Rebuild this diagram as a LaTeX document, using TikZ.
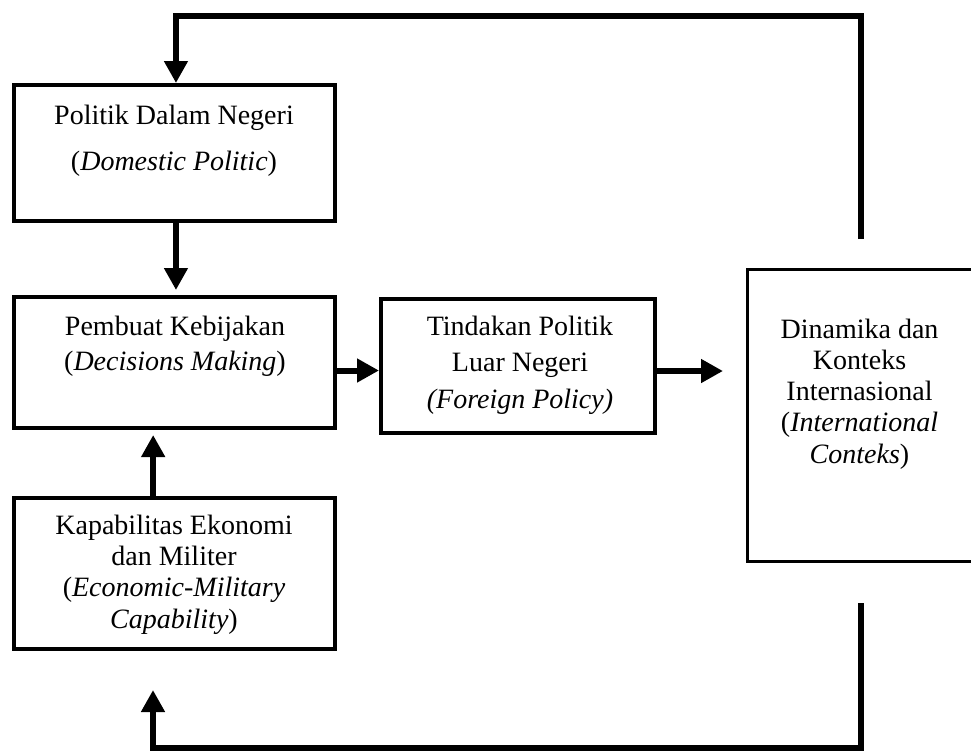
\documentclass[tikz,border=0pt]{standalone}
\usepackage{fontspec}
\setmainfont{Liberation Serif}
\usetikzlibrary{arrows.meta}
\begin{document}
\begin{tikzpicture}[x=0.75pt,y=-0.75pt,
  box/.style={draw, line width=3.3pt, rectangle, inner sep=0pt},
  txt/.style={align=center, inner sep=0pt},
  conn/.style={line width=4.5pt, -{Triangle[length=16.5pt,width=17pt]}}]
\useasboundingbox (0,0) rectangle (971,751);

% boxes
\node[box, minimum width=240.45pt, minimum height=101.7pt] (b1) at (174.5,153) {};
\node[box, minimum width=240.45pt, minimum height=97.95pt] (b2) at (174.5,362.5) {};
\node[box, minimum width=205.2pt, minimum height=100.2pt] (b3) at (518,366) {};
\node[box, minimum width=240.45pt, minimum height=112.95pt] (b4) at (174.5,573.5) {};
\node[box, line width=2.25pt, minimum width=177pt, minimum height=219pt] (b5) at (865.5,415.5) {};

% texts
\node[txt, font=\fontsize{21}{34.5}\selectfont] (t1) at (174,140.5)
  {Politik Dalam Negeri\\(\textit{Domestic Politic})};
\node[txt, font=\fontsize{21}{26.25}\selectfont] (t2) at (175,346)
  {Pembuat Kebijakan\\(\textit{Decisions Making})};
\node[txt, font=\fontsize{21}{27.4}\selectfont] (t3) at (520,365)
  {Tindakan Politik\\Luar Negeri\\\textit{(Foreign Policy)}};
\node[txt, font=\fontsize{21}{23.5}\selectfont] (t4) at (174,574.5)
  {Kapabilitas Ekonomi\\dan Militer\\(\textit{Economic-Military}\\\textit{Capability})};
\node[txt, font=\fontsize{21}{23.4}\selectfont] (t5) at (859.5,394)
  {Dinamika dan\\Konteks\\Internasional\\(\textit{International}\\\textit{Conteks})};

% helper coordinates
\coordinate (r1) at (0,370.5);
\coordinate (tipA) at (723,371);
\coordinate (fbTop) at (860.5,239);
\coordinate (topY) at (0,16);
\coordinate (fbBot) at (860.5,603);
\coordinate (botY) at (0,748);
\coordinate (tipB) at (153,690);

% connectors
\draw[conn, shorten >=3.75pt] ([xshift=1.1pt]b1.south) -- ([xshift=1.1pt]b2.north);
\draw[conn] (b2.east |- r1) -- (b3.west |- r1);
\draw[conn] (b3.east |- tipA) -- (tipA);
\draw[conn, shorten >=3.75pt] ([xshift=-16pt]b4.north) -- ([xshift=-16pt]b2.south);
\draw[conn] (fbTop) -- (fbTop |- topY) -| ([xshift=1.1pt]b1.north);
\draw[conn] (fbBot) -- (fbBot |- botY) -| (tipB);
\end{tikzpicture}
\end{document}
